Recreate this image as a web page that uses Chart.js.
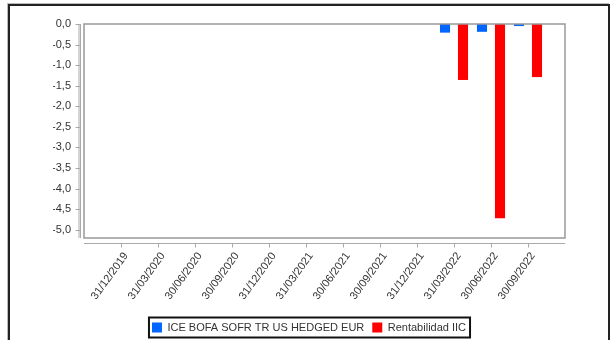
<!DOCTYPE html>
<html>
<head>
<meta charset="utf-8">
<script src="https://cdn.jsdelivr.net/npm/chart.js@4"></script>
<style>
  html, body { margin: 0; padding: 0; background: #fff; overflow: hidden; }
  #wrap { position: relative; width: 611px; height: 340px; }
  #frame { position: absolute; left: 8px; top: 4px; width: 598px; height: 400px;
           border: 2px solid #222; box-shadow: -1px -1px 0 #bbb; }
  #graph { position: absolute; left: 0; top: 0; }
</style>
</head>
<body>
<div id="wrap">
  <div id="frame"></div>
  <canvas id="graph" width="611" height="350"></canvas>
</div>
<script>
// dates on the x axis
const categories = ['31/12/2019', '31/03/2020', '30/06/2020', '30/09/2020', '31/12/2020', '31/03/2021',
                    '30/06/2021', '30/09/2021', '31/12/2021', '31/03/2022', '30/06/2022', '30/09/2022'];
// benchmark (blue) and fund (red) returns, %
const benchmark = [null, null, null, null, null, null, null, null, null, -0.21, -0.19, -0.05];
const fund      = [null, null, null, null, null, null, null, null, null, -1.36, -4.72, -1.29];
const yTicks = [0, -0.5, -1, -1.5, -2, -2.5, -3, -3.5, -4, -4.5, -5];

// blank slot at each end so ticks sit on the bars like the original
const labels = [''].concat(categories, ['']);
const pad = arr => [null].concat(arr, [null]);

Chart.defaults.font.family = "'Liberation Sans', Arial, sans-serif";
Chart.defaults.font.size = 11;
Chart.defaults.color = '#333';

// draws the plot box, the detached axis lines and the legend frame
const decor = {
  id: 'decor',
  afterDraw(chart) {
    const c = chart.ctx;
    const a = chart.chartArea;
    const x = chart.scales.x, y = chart.scales.y;
    c.save();
    c.strokeStyle = '#999';
    c.lineWidth = 1.5;
    c.strokeRect(a.left, a.top, a.right - a.left, a.bottom - a.top);

    c.strokeStyle = '#aaa';
    c.lineWidth = 1;
    // y axis
    const ax = a.left - 3.5;
    c.beginPath();
    c.moveTo(ax, a.top); c.lineTo(ax, a.bottom);
    c.moveTo(ax - 1.5, a.top); c.lineTo(ax - 1.5, a.bottom);
    yTicks.forEach(v => {
      const py = Math.round(y.getPixelForValue(v)) + 0.5;
      c.moveTo(ax - 5, py); c.lineTo(ax, py);
    });
    // x axis
    const ay = a.bottom + 5.5;
    c.moveTo(a.left, ay); c.lineTo(a.right, ay);
    categories.forEach((d, i) => {
      const px = Math.round(x.getPixelForValue(i + 1)) + 0.5;
      c.moveTo(px, ay); c.lineTo(px, ay + 4);
    });
    c.stroke();

    // legend frame
    const hb = chart.legend.legendHitBoxes;
    if (hb && hb.length) {
      const first = hb[0], last = hb[hb.length - 1];
      const l = first.left - 3, r = last.left + last.width + 4;
      const t = first.top - 4.5, b = first.top + first.height + 4.5;
      c.strokeStyle = '#111';
      c.lineWidth = 2;
      c.strokeRect(l, t, r - l, b - t);
    }
    c.restore();
  }
};

const ctx = document.getElementById('graph').getContext('2d');
const chart = new Chart(ctx, {
  type: 'bar',
  data: {
    labels: labels,
    datasets: [{
      label: 'ICE BOFA SOFR TR US HEDGED EUR',
      data: pad(benchmark),
      backgroundColor: '#0066ff',
      categoryPercentage: 0.973,
      barPercentage: 0.56,
    }, {
      label: 'Rentabilidad IIC',
      data: pad(fund),
      backgroundColor: '#ff0000',
      categoryPercentage: 0.973,
      barPercentage: 0.56,
    }],
  },
  options: {
    responsive: false,
    animation: false,
    layout: { padding: { left: 53, right: 46, top: 24, bottom: 7 } },
    plugins: {
      tooltip: { enabled: false },
      legend: {
        position: 'bottom',
        labels: { boxWidth: 10, boxHeight: 10, padding: 8, color: '#333' },
      },
    },
    scales: {
      x: {
        offset: false,
        grid: { display: false, drawTicks: false },
        border: { display: false },
        ticks: { autoSkip: false, maxRotation: 54, minRotation: 54, padding: 12, labelOffset: 5, color: '#333' },
        afterFit(scale) { scale.height = 76; },
      },
      y: {
        min: -5.2,
        max: 0,
        grid: { display: false, drawTicks: false },
        border: { display: false },
        afterBuildTicks(scale) { scale.ticks = yTicks.map(v => ({ value: v })); },
        ticks: {
          padding: 13,
          color: '#333',
          callback: v => v.toFixed(1).replace('.', ','),
        },
        afterFit(scale) { scale.width = 31; },
      },
    },
  },
  plugins: [decor],
});
</script>
</body>
</html>
